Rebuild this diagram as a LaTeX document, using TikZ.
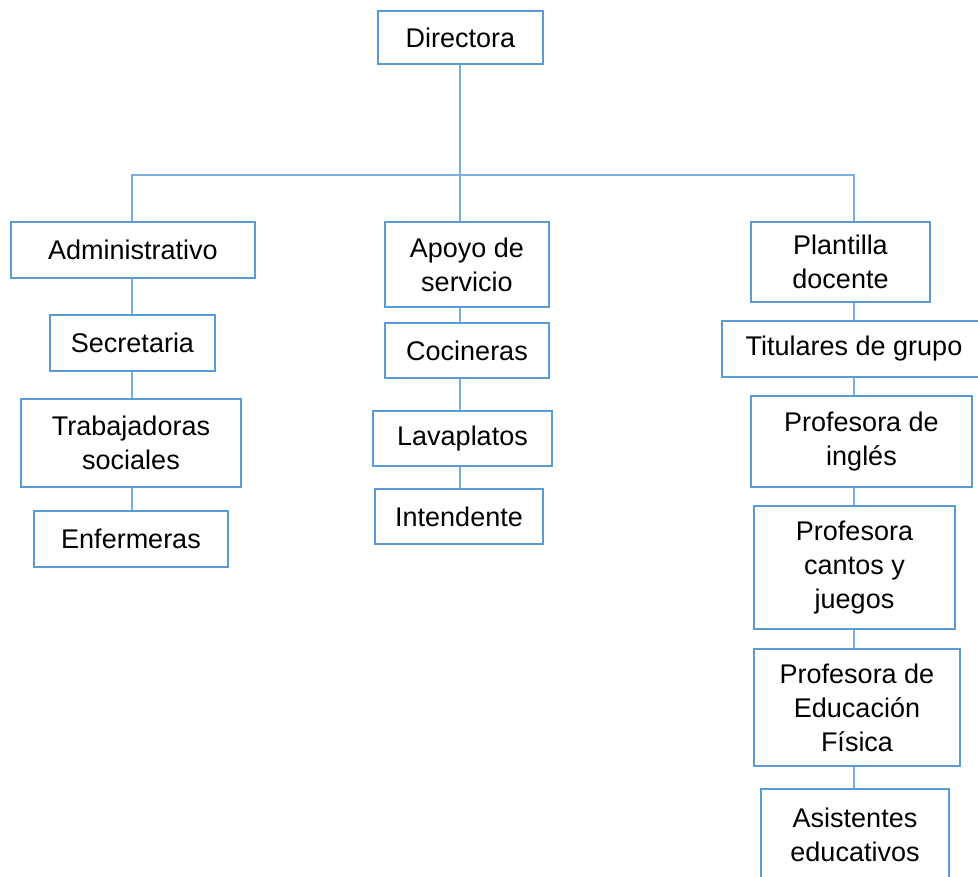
\documentclass[tikz,border=0pt]{standalone}
\usepackage{fontspec}
\setmainfont{Liberation Sans}
\definecolor{boxblue}{HTML}{5B9BD5}
\definecolor{lineblue}{HTML}{7EAEDD}
\begin{document}
\begin{tikzpicture}[x=1pt,y=-1pt,
 box/.style={draw=boxblue, line width=2.8pt, fill=white, align=center, inner sep=0pt,
   font=\fontsize{27}{34}\selectfont},
 conn/.style={draw=lineblue, line width=1.4pt}]
\useasboundingbox (0,0) rectangle (978,877);
\clip (0,0) rectangle (978,877);
\coordinate (busL) at (132,175);
\coordinate (busM) at (460,175);
\coordinate (busR) at (854,175);
% nodes
\node[box, minimum width=165pt, minimum height=53pt] (dir) at (460.5,37.5) {Directora};
\node[box, minimum width=244pt, minimum height=56pt] (adm) at (133,250) {Administrativo};
\node[box, minimum width=165pt, minimum height=56pt] (sec) at (132.5,343) {Secretaria};
\node[box, minimum width=220pt, minimum height=88pt] (tra) at (131,443) {Trabajadoras\\sociales};
\node[box, minimum width=194pt, minimum height=56pt] (enf) at (131,539) {Enfermeras};
\node[box, minimum width=164pt, minimum height=85pt] (apo) at (467,264.5) {Apoyo de\\servicio};
\node[box, minimum width=164pt, minimum height=55pt] (coc) at (467,350.5) {Cocineras};
\node[box, minimum width=179pt, minimum height=55pt] (lav) at (462.5,438.5) {Lavaplatos};
\node[box, minimum width=168pt, minimum height=55pt] (int) at (459,516.5) {Intendente};
\node[box, minimum width=179pt, minimum height=80pt] (pla) at (840.5,262) {Plantilla\\docente};
\node[box, minimum width=264pt, minimum height=56pt] (tit) at (854,349) {Titulares de grupo};
\node[box, minimum width=221pt, minimum height=91pt] (ing) at (861.5,441.5) {Profesora de\\inglés};
\node[box, minimum width=201pt, minimum height=123pt] (can) at (854.5,567.5) {Profesora\\cantos y\\juegos};
\node[box, minimum width=206pt, minimum height=117pt] (edu) at (857,707.5) {Profesora de\\Educación\\Física};
\node[box, minimum width=188pt, minimum height=91pt] (asi) at (855,834.5) {Asistentes\\educativos};
% connectors
\draw[conn] (dir.south -| busM) -- (busM);
\draw[conn] (busM) -- (apo.north -| busM);
\draw[conn] (adm.north -| busL) -- (busL) -- (busR) -- (pla.north -| busR);
\draw[conn] (adm.south -| busL) -- (sec.north -| busL);
\draw[conn] (sec.south -| busL) -- (tra.north -| busL);
\draw[conn] (tra.south -| busL) -- (enf.north -| busL);
\draw[conn] (apo.south -| busM) -- (coc.north -| busM);
\draw[conn] (coc.south -| busM) -- (lav.north -| busM);
\draw[conn] (lav.south -| busM) -- (int.north -| busM);
\draw[conn] (pla.south -| busR) -- (tit.north -| busR);
\draw[conn] (tit.south -| busR) -- (ing.north -| busR);
\draw[conn] (ing.south -| busR) -- (can.north -| busR);
\draw[conn] (can.south -| busR) -- (edu.north -| busR);
\draw[conn] (edu.south -| busR) -- (asi.north -| busR);
\end{tikzpicture}
\end{document}
